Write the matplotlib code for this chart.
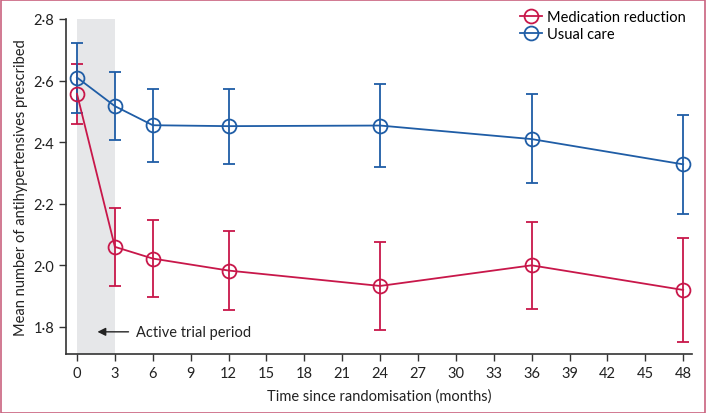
import matplotlib
matplotlib.use("Agg")
import matplotlib.pyplot as plt
from matplotlib.patches import Rectangle
from matplotlib.lines import Line2D
from matplotlib.ticker import FuncFormatter

plt.rcParams['font.family'] = ['Lato', 'DejaVu Sans']

months = [0, 3, 6, 12, 24, 36, 48]

reduction_mean = [2.557, 2.060, 2.022, 1.983, 1.933, 2.000, 1.920]
reduction_low = [2.460, 1.933, 1.897, 1.855, 1.790, 1.858, 1.751]
reduction_high = [2.655, 2.187, 2.148, 2.110, 2.077, 2.142, 2.088]

usual_mean = [2.610, 2.517, 2.455, 2.452, 2.454, 2.410, 2.328]
usual_low = [2.495, 2.407, 2.335, 2.330, 2.318, 2.267, 2.168]
usual_high = [2.722, 2.627, 2.572, 2.573, 2.588, 2.557, 2.488]

x_ticks = list(range(0, 49, 3))
y_ticks = [1.8, 2.0, 2.2, 2.4, 2.6, 2.8]

red = "#C8174A"
blue = "#1F5DA6"
axis_col = "#333333"


def main():
    fig = plt.figure(figsize=(7.06, 4.14), dpi=100)
    ax = fig.add_axes([66 / 706, 59 / 414, 626 / 706, 335 / 414])

    # shaded active period
    ax.axvspan(0, 3, ymin=0, ymax=1, color="#E6E7E9", lw=0, zorder=0)

    handles = []
    for mean, low, high, col, lab in [
        (reduction_mean, reduction_low, reduction_high, red, "Medication reduction"),
        (usual_mean, usual_low, usual_high, blue, "Usual care"),
    ]:
        yerr = [[m - l for m, l in zip(mean, low)], [h - m for m, h in zip(mean, high)]]
        ax.errorbar(months, mean, yerr=yerr, color=col, lw=1.3, elinewidth=1.3,
                    capsize=4, capthick=1.3, marker="o", markersize=10,
                    markerfacecolor="none", markeredgewidth=1.3, zorder=3)
        handles.append(Line2D([], [], color=col, lw=1.3, marker="o", markersize=10,
                              markerfacecolor="none", markeredgewidth=1.3, label=lab))

    ax.set_xlim(-0.87, 48.7)
    ax.set_ylim(1.712, 2.8)
    ax.set_xticks(x_ticks)
    ax.set_yticks(y_ticks)
    ax.yaxis.set_major_formatter(FuncFormatter(lambda v, p: f"{v:.1f}".replace(".", "·")))

    for s in ["top", "right"]:
        ax.spines[s].set_visible(False)
    for s in ["left", "bottom"]:
        ax.spines[s].set_color(axis_col)
        ax.spines[s].set_linewidth(1.2)
    ax.tick_params(colors=axis_col, labelcolor="#222222", labelsize=10.5, length=5, width=1)

    ax.set_xlabel("Time since randomisation (months)", fontsize=10.5, color="#222222", labelpad=6)
    ax.set_ylabel("Mean number of antihypertensives prescribed", fontsize=10.5, color="#222222", labelpad=4)

    ax.annotate("", xy=(1.4, 1.784), xytext=(4.3, 1.784),
                arrowprops=dict(arrowstyle="-|>", color="#222222", lw=1, mutation_scale=12))
    ax.text(4.7, 1.784, "Active trial period", fontsize=10.5, color="#222222", va="center")

    ax.legend(handles=handles, loc="upper right", frameon=False, fontsize=10.5, handlelength=1.5,
              handletextpad=0.4, labelspacing=0.25, borderaxespad=0,
              bbox_to_anchor=(1.0, 1.045))

    fig.patches.append(Rectangle((0.001, 0.001), 0.998, 0.997, transform=fig.transFigure,
                                 fill=False, edgecolor="#C9627F", lw=1.2))

    fig.savefig("out.png", dpi=100)


if __name__ == "__main__":
    main()
